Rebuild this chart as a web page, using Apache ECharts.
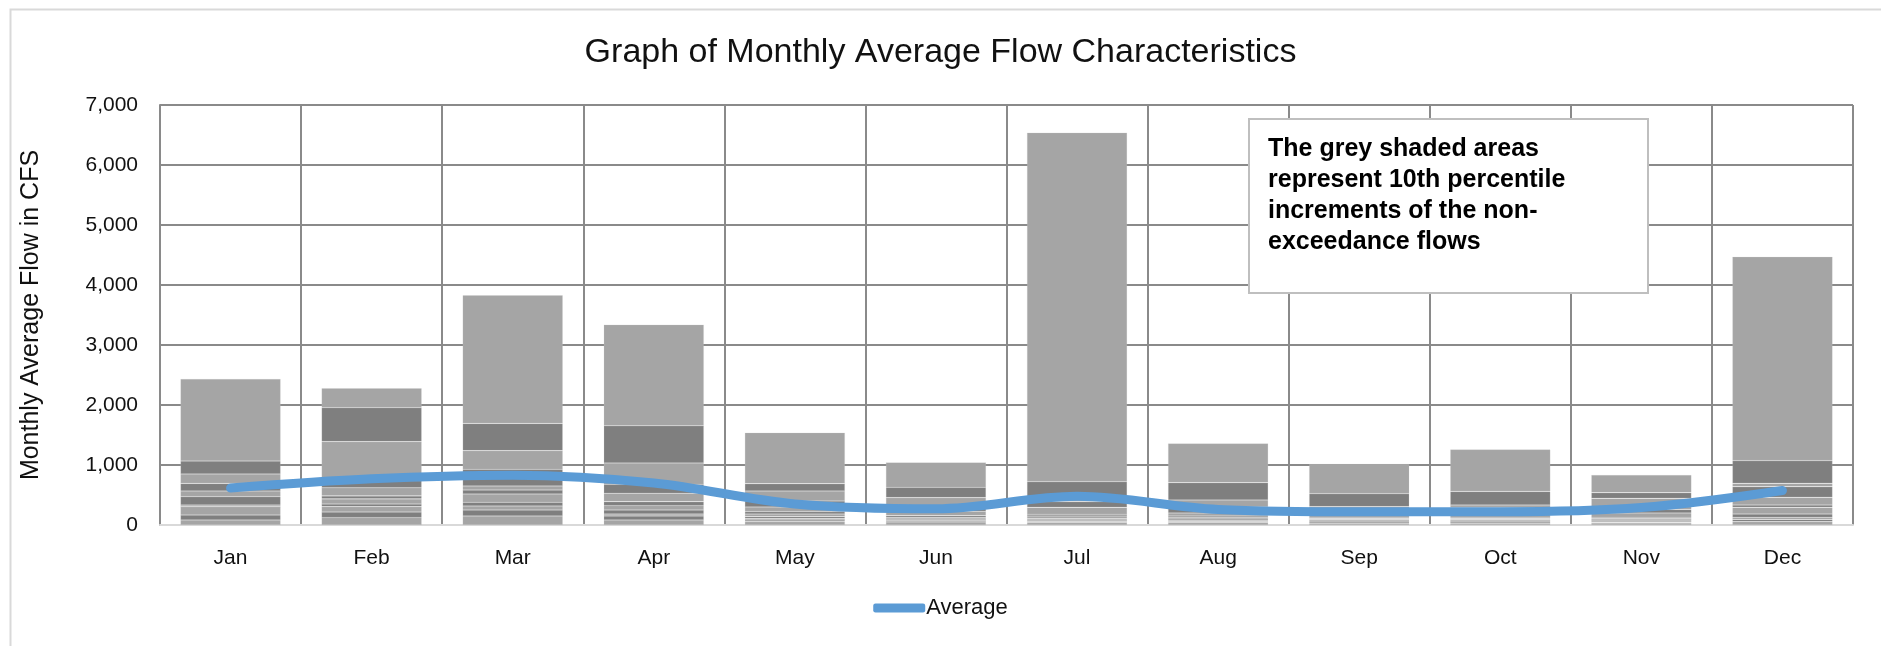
<!DOCTYPE html>
<html>
<head>
<meta charset="utf-8">
<script src="https://cdn.jsdelivr.net/npm/echarts@6/dist/echarts.min.js"></script>
<style>
html,body{margin:0;padding:0;background:#fff;}
#chart{width:1881px;height:646px;}
</style>
</head>
<body>
<div id="chart"></div>
<script>
// Categories
const months = ['Jan','Feb','Mar','Apr','May','Jun','Jul','Aug','Sep','Oct','Nov','Dec'];
// Non-exceedance flow percentiles (cumulative values, CFS)
const p0   = [83, 122, 150, 83, 56, 50, 40, 40, 30, 30, 33, 56];
const p10  = [167, 217, 250, 150, 83, 67, 60, 60, 50, 50, 44, 94];
const p20  = [305, 306, 317, 183, 106, 83, 85, 80, 72, 70, 67, 128];
const p30  = [306, 350, 380, 250, 139, 100, 110, 100, 90, 90, 83, 183];
const p40  = [333, 436, 517, 322, 183, 128, 150, 125, 110, 110, 106, 294];
const p50  = [472, 486, 583, 389, 222, 156, 180, 150, 130, 130, 128, 333];
const p60  = [567, 620, 650, 528, 300, 230, 294, 200, 160, 200, 200, 461];
const p70  = [694, 740, 928, 678, 400, 310, 390, 300, 200, 294, 260, 639];
const p80  = [850, 1389, 1239, 1033, 567, 456, 470, 417, 306, 333, 444, 694];
const p90  = [1067, 1958, 1694, 1653, 689, 628, 722, 706, 522, 561, 539, 1072];
const p100 = [2433, 2278, 3830, 3340, 1539, 1044, 6540, 1361, 1017, 1261, 833, 4470];
// Monthly average flow
const average = [615, 770, 830, 700, 350, 270, 480, 260, 220, 220, 290, 575];
// Y tick labels
const yTicks = [0, 1000, 2000, 3000, 4000, 5000, 6000, 7000];

const FONT = 'Liberation Sans';
const percentiles = [p0, p10, p20, p30, p40, p50, p60, p70, p80, p90, p100];
const LIGHT = '#a5a5a5', DARK = '#7f7f7f';

const barSeries = percentiles.map((arr, i) => ({
  name: 'P' + (i * 10),
  type: 'bar',
  stack: 'pct',
  barCategoryGap: '29%',
  data: arr.map((v, j) => i === 0 ? v : v - percentiles[i - 1][j]),
  itemStyle: { color: i % 2 === 0 ? LIGHT : DARK, borderColor: 'rgba(200,200,200,0.35)', borderWidth: 0.6 },
  emphasis: { disabled: true },
  z: 2
}));

const chart = echarts.init(document.getElementById('chart'), null, { renderer: 'canvas' });
chart.setOption({
  animation: false,
  backgroundColor: '#fff',
  textStyle: { fontFamily: FONT },
  title: {
    text: 'Graph of Monthly Average Flow Characteristics',
    left: 'center',
    top: 31,
    textStyle: { fontFamily: FONT, fontSize: 34, fontWeight: 'normal', color: '#111' }
  },
  legend: {
    data: ['Average'],
    bottom: 22,
    left: 'center',
    icon: 'roundRect',
    itemWidth: 52,
    itemHeight: 9,
    itemGap: 2,
    textStyle: { fontFamily: FONT, fontSize: 22, color: '#111', padding: [0, 0, 0, -4] }
  },
  grid: { left: 160, right: 28, top: 105, bottom: 121, containLabel: false },
  xAxis: {
    type: 'category',
    data: months,
    axisLine: { lineStyle: { color: '#d9d9d9', width: 2 } },
    axisTick: { show: false },
    axisLabel: { fontFamily: FONT, fontSize: 21, color: '#111', margin: 23 },
    splitLine: { show: true, lineStyle: { color: '#8a8a8a', width: 2 } }
  },
  yAxis: {
    type: 'value',
    min: yTicks[0],
    max: yTicks[yTicks.length - 1],
    interval: 1000,
    name: 'Monthly Average Flow in CFS',
    nameLocation: 'middle',
    nameGap: 116,
    nameTextStyle: { fontFamily: FONT, fontSize: 25, color: '#111' },
    axisLine: { show: true, lineStyle: { color: '#8a8a8a', width: 2 } },
    axisTick: { show: false },
    axisLabel: {
      fontFamily: FONT, fontSize: 21, color: '#111', margin: 22,
      formatter: v => v.toLocaleString('en-US')
    },
    splitLine: { show: true, lineStyle: { color: '#8a8a8a', width: 2 } }
  },
  graphic: [
    { type: 'rect', left: 8, top: 7, z: -10, silent: true,
      shape: { width: 1900, height: 700 },
      style: { fill: 'none', stroke: '#d9d9d9', lineWidth: 2 } },
    { type: 'rect', left: 1248, top: 118, z: 100,
      shape: { width: 399, height: 174 },
      style: { fill: '#fff', stroke: '#bfbfbf', lineWidth: 2 } },
    { type: 'text', left: 1268, top: 134, z: 101,
      style: {
        text: 'The grey shaded areas\nrepresent 10th percentile\nincrements of the non-\nexceedance flows',
        font: 'bold 25px "' + FONT + '"',
        lineHeight: 31,
        fill: '#000'
      } }
  ],
  series: barSeries.concat([{
    name: 'Average',
    type: 'line',
    data: average,
    smooth: 0.35,
    showSymbol: false,
    symbol: 'none',
    lineStyle: { color: '#5b9bd5', width: 9, cap: 'round', join: 'round' },
    itemStyle: { color: '#5b9bd5' },
    z: 10
  }])
});
</script>
</body>
</html>
